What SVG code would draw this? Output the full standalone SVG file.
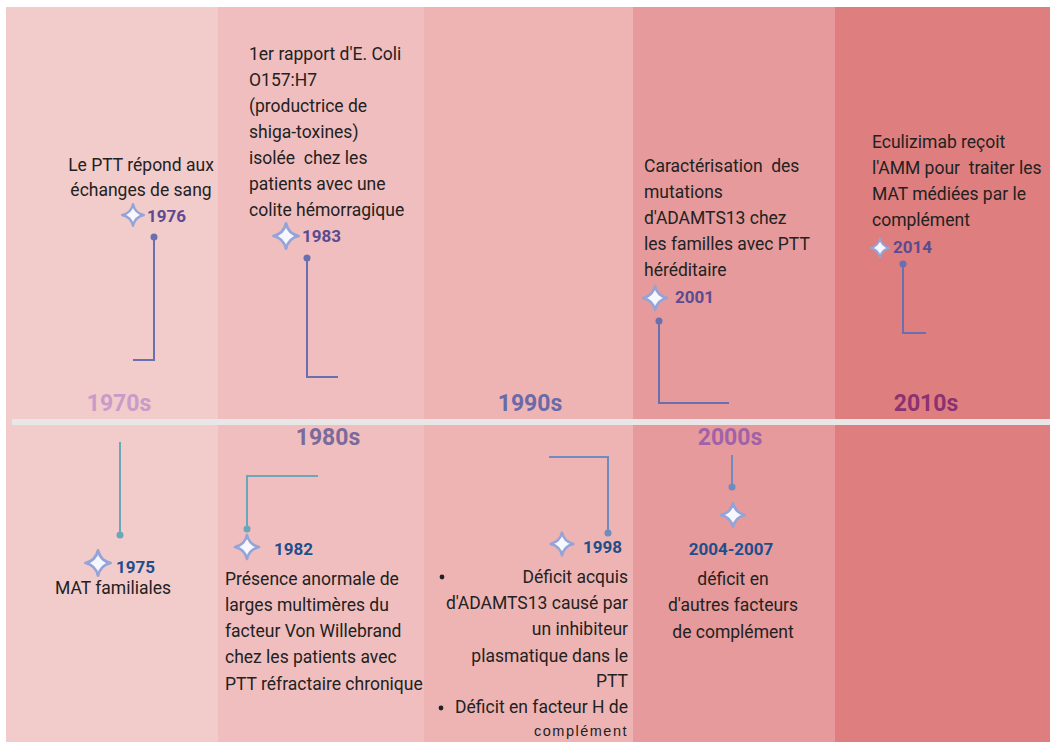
<svg xmlns="http://www.w3.org/2000/svg" xmlns:xlink="http://www.w3.org/1999/xlink" width="1050" height="742" viewBox="0 0 1050 742">
<style>
.t{font-family:Roboto,"Liberation Sans",sans-serif;font-size:17.5px;fill:#222222}
.yr{font-family:Roboto,"Liberation Sans",sans-serif;font-size:17px;font-weight:bold}
.top{fill:#5b4b91}
.bot{fill:#1f4e8c}
.dec{font-family:Roboto,"Liberation Sans",sans-serif;font-size:23px;font-weight:bold;text-anchor:middle}
.cn{fill:none;stroke-width:2}
.ctop{stroke:#6a6fb0}
.cteal{stroke:#6aa7b9}
.cblue{stroke:#6e8cbf}
.small{font-family:"Liberation Sans",Arial,sans-serif;font-size:14.5px;fill:#222222;letter-spacing:1.5px}
</style>
<defs>
<path id="star" d="M0,-12 Q2.2,-2.2 12,0 Q2.2,2.2 0,12 Q-2.2,2.2 -12,0 Q-2.2,-2.2 0,-12 Z" fill="#f7f8ff" stroke="#94a3d8" stroke-width="2.6" stroke-linejoin="round"/>
</defs>
<rect width="1050" height="742" fill="#ffffff"/>
<g id="columns">
<rect x="6" y="7" width="212" height="735" fill="#f2cbcb"/>
<rect x="218" y="7" width="206" height="735" fill="#f0bebe"/>
<rect x="424" y="7" width="209" height="735" fill="#eeb4b4"/>
<rect x="633" y="7" width="202" height="735" fill="#e69a9b"/>
<rect x="835" y="7" width="215" height="735" fill="#df7e7e"/>
</g>
<rect id="axis" x="12" y="419" width="1038" height="6" fill="#e8e6e6"/>
<g id="decades">
<text class="dec" x="119" y="411" fill="#c89bc8">1970s</text>
<text class="dec" x="328" y="445" fill="#7b6a9c">1980s</text>
<text class="dec" x="530" y="411" fill="#6a6aa8">1990s</text>
<text class="dec" x="730" y="445" fill="#a062a8">2000s</text>
<text class="dec" x="926" y="411" fill="#8a3272">2010s</text>
</g>
<g id="connectors">
<polyline class="cn ctop" points="154,237 154,360 133,360"/>
<circle cx="154" cy="237" r="3.5" fill="#6a6fb0"/>
<polyline class="cn ctop" points="307,258 307,377 338,377"/>
<circle cx="307" cy="258" r="3.5" fill="#6a6fb0"/>
<polyline class="cn ctop" points="659,321 659,403 729,403"/>
<circle cx="659" cy="321" r="3.5" fill="#6a6fb0"/>
<polyline class="cn ctop" points="903,264 903,333 926,333"/>
<circle cx="903" cy="264" r="3.5" fill="#6a6fb0"/>
<polyline class="cn cteal" points="120,442 120,535"/>
<circle cx="120" cy="535" r="3.5" fill="#6aa7b9"/>
<polyline class="cn cteal" points="318,476 247,476 247,529"/>
<circle cx="247" cy="529" r="3.5" fill="#6aa7b9"/>
<polyline class="cn cblue" points="549,457 608,457 608,533"/>
<circle cx="608" cy="533" r="3.5" fill="#6e8cbf"/>
<polyline class="cn cblue" points="732,455 732,487"/>
<circle cx="732" cy="487" r="3.5" fill="#6e8cbf"/>
</g>
<g id="e1976">
<text class="t" text-anchor="middle" x="141" y="171">Le PTT répond aux</text>
<text class="t" text-anchor="middle" x="141" y="196">échanges de sang</text>
<use xlink:href="#star" transform="translate(133,215) scale(0.9)"/>
<text class="yr top" x="147" y="222">1976</text>
</g>
<g id="e1983">
<text class="t" x="249" y="60">1er rapport d'E. Coli</text>
<text class="t" x="249" y="86">O157:H7</text>
<text class="t" x="249" y="112">(productrice de</text>
<text class="t" x="249" y="138">shiga-toxines)</text>
<text class="t" x="249" y="164" xml:space="preserve">isolée  chez les</text>
<text class="t" x="249" y="190">patients avec une</text>
<text class="t" x="249" y="216">colite hémorragique</text>
<use xlink:href="#star" transform="translate(286,236) scale(1.05)"/>
<text class="yr top" x="302" y="242">1983</text>
</g>
<g id="e2001">
<text class="t" x="644" y="172" xml:space="preserve">Caractérisation  des</text>
<text class="t" x="644" y="198">mutations</text>
<text class="t" x="644" y="224">d'ADAMTS13 chez</text>
<text class="t" x="644" y="250">les familles avec PTT</text>
<text class="t" x="644" y="276">héréditaire</text>
<use xlink:href="#star" transform="translate(655,298) scale(1.0)"/>
<text class="yr top" x="675" y="303">2001</text>
</g>
<g id="e2014">
<text class="t" x="872" y="148">Eculizimab reçoit</text>
<text class="t" x="872" y="174" xml:space="preserve">l'AMM pour  traiter les</text>
<text class="t" x="872" y="200">MAT médiées par le</text>
<text class="t" x="872" y="226">complément</text>
<use xlink:href="#star" transform="translate(880,248) scale(0.78)"/>
<text class="yr top" x="893" y="253">2014</text>
</g>
<g id="e1975">
<use xlink:href="#star" transform="translate(98,563) scale(1.05)"/>
<text class="yr bot" x="116" y="573">1975</text>
<text class="t" text-anchor="middle" x="113" y="594">MAT familiales</text>
</g>
<g id="e1982">
<use xlink:href="#star" transform="translate(247,547) scale(1.0)"/>
<text class="yr bot" x="274" y="555">1982</text>
<text class="t" x="225" y="585">Présence anormale de</text>
<text class="t" x="225" y="611">larges multimères du</text>
<text class="t" x="225" y="637">facteur Von Willebrand</text>
<text class="t" x="225" y="663">chez les patients avec</text>
<text class="t" x="225" y="690">PTT réfractaire chronique</text>
</g>
<g id="e1998">
<use xlink:href="#star" transform="translate(562,544) scale(0.95)"/>
<text class="yr bot" x="583" y="553">1998</text>
<circle cx="442" cy="577" r="2.4" fill="#222222"/>
<text class="t" text-anchor="end" x="628" y="583">Déficit acquis</text>
<text class="t" text-anchor="end" x="628" y="609">d'ADAMTS13 causé par</text>
<text class="t" text-anchor="end" x="628" y="635">un inhibiteur</text>
<text class="t" text-anchor="end" x="628" y="662">plasmatique dans le</text>
<text class="t" text-anchor="end" x="628" y="687">PTT</text>
<circle cx="441" cy="708" r="2.4" fill="#222222"/>
<text class="t" text-anchor="end" x="628" y="713">Déficit en facteur H de</text>
<text class="small" text-anchor="end" x="628" y="736">complément</text>
</g>
<g id="e2004">
<use xlink:href="#star" transform="translate(733,515) scale(1.0)"/>
<text class="yr bot" text-anchor="middle" x="731" y="555">2004-2007</text>
<text class="t" text-anchor="middle" x="733" y="585">déficit en</text>
<text class="t" text-anchor="middle" x="733" y="611">d'autres facteurs</text>
<text class="t" text-anchor="middle" x="733" y="638">de complément</text>
</g>
</svg>
